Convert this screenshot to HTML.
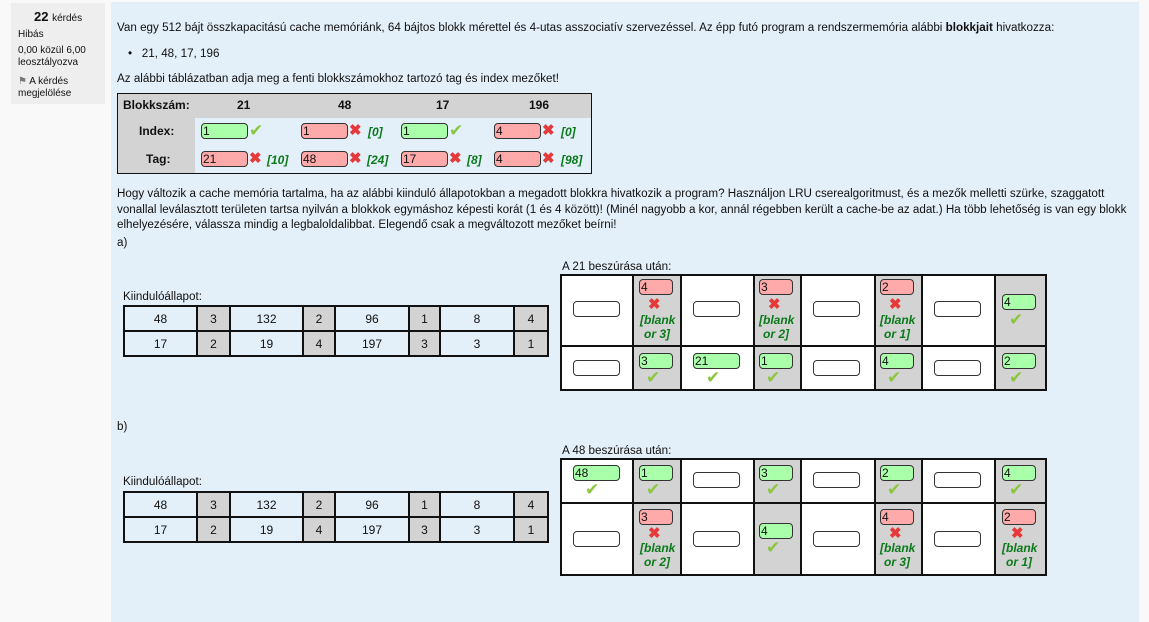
<!DOCTYPE html>
<html><head><meta charset="utf-8"><style>
*{box-sizing:border-box}
body{margin:0;width:1149px;height:608px;background:#f9f9f9;font-family:"Liberation Sans",Arial,sans-serif;font-size:12px;color:#111;position:relative;overflow:hidden}
.a{position:absolute;white-space:nowrap}
.t{font-size:11.65px}
#info{position:absolute;left:11px;top:3px;width:94px;height:101px;background:#eee}
#panel{position:absolute;left:111px;top:2px;width:1028px;height:620px;background:#e3eff9}
.in{position:absolute;height:16px;border:1px solid #333;border-radius:4px;background:#fff;font-size:12px;line-height:14px;padding-left:1px}
.g{background:#aaffaa}.r{background:#ffaaaa}
.ck{position:absolute;color:#8cc63f;font-size:17px;line-height:17px}
.x{position:absolute;color:#e5393a;font-size:15px;line-height:15px;font-weight:bold}
.fb{position:absolute;color:#0a7a1a;font-weight:bold;font-style:italic;font-size:12px}
table{border-collapse:collapse;position:absolute;table-layout:fixed}
table.k td{border:2px solid #111;text-align:center;height:25px;padding:0;font-size:12px}
td.gr{background:#d3d3d3}
table.k td.gr{border-left:1px dotted #111}
table.c td{border:2px solid #111;padding:0;position:relative;background:#fff}
table.c td.gr{background:#d3d3d3;border-left:1px dotted #111}
</style></head><body>
<div id="info"></div>
<div class="a" style="left:34px;top:9px;font-size:13px;font-weight:bold">22 <span style="font-size:10px;font-weight:normal">kérdés</span></div>
<div class="a" style="left:18px;top:29px;font-size:10px">Hibás</div>
<div class="a" style="left:18px;top:45px;font-size:10px;line-height:12px">0,00 közül 6,00<br>leosztályozva</div>
<div class="a" style="left:18px;top:76px;font-size:10px;line-height:12px"><span style="color:#777">⚑</span> A kérdés<br>megjelölése</div>
<div id="panel"></div>
<div class="a t" style="left:117px;top:21px">Van egy 512 bájt összkapacitású cache memóriánk, 64 bájtos blokk mérettel és 4-utas asszociatív szervezéssel. Az épp futó program a rendszermemória alábbi <b>blokkjait</b> hivatkozza:</div>
<div class="a t" style="left:128px;top:47px">•&nbsp;&nbsp; 21, 48, 17, 196</div>
<div class="a t" style="left:117px;top:72px">Az alábbi táblázatban adja meg a fenti blokkszámokhoz tartozó tag és index mezőket!</div>

<div class="a" style="left:117px;top:93px;width:475px;height:81px;border:1px solid #111;background:#e3eff9"></div>
<div class="a" style="left:118px;top:94px;width:473px;height:24px;background:#d3d3d3"></div>
<div class="a" style="left:118px;top:118px;width:77px;height:55px;background:#d3d3d3"></div>
<div class="a" style="left:123px;top:98px;font-weight:bold">Blokkszám:</div>
<div class="a" style="left:237px;top:98px;font-weight:bold">21</div>
<div class="a" style="left:338px;top:98px;font-weight:bold">48</div>
<div class="a" style="left:436px;top:98px;font-weight:bold">17</div>
<div class="a" style="left:529px;top:98px;font-weight:bold">196</div>
<div class="a" style="left:139px;top:124px;font-weight:bold">Index:</div>
<div class="a" style="left:146px;top:152px;font-weight:bold">Tag:</div>
<div class="in g" style="left:201px;top:123px;width:47px">1</div><div class="ck" style="left:249px;top:122px">✔</div>
<div class="in r" style="left:301px;top:123px;width:47px">1</div><div class="x" style="left:349px;top:123px">✖</div><div class="fb" style="left:368px;top:125px">[0]</div>
<div class="in g" style="left:401px;top:123px;width:47px">1</div><div class="ck" style="left:449px;top:122px">✔</div>
<div class="in r" style="left:494px;top:123px;width:47px">4</div><div class="x" style="left:542px;top:123px">✖</div><div class="fb" style="left:561px;top:125px">[0]</div>
<div class="in r" style="left:201px;top:151px;width:47px">21</div><div class="x" style="left:249px;top:151px">✖</div><div class="fb" style="left:267px;top:153px">[10]</div>
<div class="in r" style="left:301px;top:151px;width:47px">48</div><div class="x" style="left:349px;top:151px">✖</div><div class="fb" style="left:367px;top:153px">[24]</div>
<div class="in r" style="left:401px;top:151px;width:47px">17</div><div class="x" style="left:449px;top:151px">✖</div><div class="fb" style="left:467px;top:153px">[8]</div>
<div class="in r" style="left:494px;top:151px;width:47px">4</div><div class="x" style="left:542px;top:151px">✖</div><div class="fb" style="left:561px;top:153px">[98]</div>

<div class="a t" style="left:117px;top:186px;line-height:15.5px">Hogy változik a cache memória tartalma, ha az alábbi kiinduló állapotokban a megadott blokkra hivatkozik a program? Használjon LRU cserealgoritmust, és a mezők melletti szürke, szaggatott<br>vonallal leválasztott területen tartsa nyilván a blokkok egymáshoz képesti korát (1 és 4 között)! (Minél nagyobb a kor, annál régebben került a cache-be az adat.) Ha több lehetőség is van egy blokk<br>elhelyezésére, válassza mindig a legbaloldalibbat. Elegendő csak a megváltozott mezőket beírni!</div>
<div class="a t" style="left:117px;top:236px">a)</div>
<div class="a t" style="left:562px;top:260px">A 21 beszúrása után:</div>
<div class="a t" style="left:123px;top:290px">Kiindulóállapot:</div>
<table class="k" style="left:123px;top:305px;width:424px">
<colgroup><col style="width:73px"><col style="width:33px"><col style="width:73px"><col style="width:32px"><col style="width:74px"><col style="width:31px"><col style="width:74px"><col style="width:34px"></colgroup>
<tr><td>48</td><td class="gr">3</td><td>132</td><td class="gr">2</td><td>96</td><td class="gr">1</td><td>8</td><td class="gr">4</td></tr>
<tr><td>17</td><td class="gr">2</td><td>19</td><td class="gr">4</td><td>197</td><td class="gr">3</td><td>3</td><td class="gr">1</td></tr></table>

<table class="c" style="left:560px;top:274px;width:485px">
<colgroup><col style="width:72px"><col style="width:48px"><col style="width:73px"><col style="width:47px"><col style="width:74px"><col style="width:47px"><col style="width:73px"><col style="width:51px"></colgroup>
<tr style="height:71px"><td></td><td class="gr"></td><td></td><td class="gr"></td><td></td><td class="gr"></td><td></td><td class="gr"></td></tr>
<tr style="height:44px"><td></td><td class="gr"></td><td></td><td class="gr"></td><td></td><td class="gr"></td><td></td><td class="gr"></td></tr></table>
<div class="in" style="left:573px;top:301px;width:47px"></div>
<div class="in r" style="left:639px;top:279px;width:34px">4</div><div class="x" style="left:648px;top:297px">✖</div><div class="fb" style="left:640px;top:313px;text-align:center;line-height:14px;width:34px">[blank<br>or 3]</div>
<div class="in" style="left:693px;top:301px;width:47px"></div>
<div class="in r" style="left:759px;top:279px;width:34px">3</div><div class="x" style="left:768px;top:297px">✖</div><div class="fb" style="left:759px;top:313px;text-align:center;line-height:14px;width:34px">[blank<br>or 2]</div>
<div class="in" style="left:813px;top:301px;width:47px"></div>
<div class="in r" style="left:880px;top:279px;width:34px">2</div><div class="x" style="left:889px;top:297px">✖</div><div class="fb" style="left:880px;top:313px;text-align:center;line-height:14px;width:34px">[blank<br>or 1]</div>
<div class="in" style="left:934px;top:301px;width:47px"></div>
<div class="in g" style="left:1002px;top:294px;width:34px">4</div><div class="ck" style="left:1009px;top:311px">✔</div>
<div class="in" style="left:573px;top:360px;width:47px"></div>
<div class="in g" style="left:639px;top:353px;width:34px">3</div><div class="ck" style="left:646px;top:369px">✔</div>
<div class="in g" style="left:693px;top:353px;width:47px">21</div><div class="ck" style="left:706px;top:369px">✔</div>
<div class="in g" style="left:759px;top:353px;width:34px">1</div><div class="ck" style="left:766px;top:369px">✔</div>
<div class="in" style="left:813px;top:360px;width:47px"></div>
<div class="in g" style="left:880px;top:353px;width:34px">4</div><div class="ck" style="left:887px;top:369px">✔</div>
<div class="in" style="left:934px;top:360px;width:47px"></div>
<div class="in g" style="left:1002px;top:353px;width:34px">2</div><div class="ck" style="left:1009px;top:369px">✔</div>

<div class="a t" style="left:117px;top:420px">b)</div>
<div class="a t" style="left:562px;top:444px">A 48 beszúrása után:</div>
<div class="a t" style="left:123px;top:475px">Kiindulóállapot:</div>
<table class="k" style="left:123px;top:491px;width:424px">
<colgroup><col style="width:73px"><col style="width:33px"><col style="width:73px"><col style="width:32px"><col style="width:74px"><col style="width:31px"><col style="width:74px"><col style="width:34px"></colgroup>
<tr><td>48</td><td class="gr">3</td><td>132</td><td class="gr">2</td><td>96</td><td class="gr">1</td><td>8</td><td class="gr">4</td></tr>
<tr><td>17</td><td class="gr">2</td><td>19</td><td class="gr">4</td><td>197</td><td class="gr">3</td><td>3</td><td class="gr">1</td></tr></table>

<table class="c" style="left:560px;top:458px;width:485px">
<colgroup><col style="width:72px"><col style="width:48px"><col style="width:73px"><col style="width:47px"><col style="width:74px"><col style="width:47px"><col style="width:73px"><col style="width:51px"></colgroup>
<tr style="height:44px"><td></td><td class="gr"></td><td></td><td class="gr"></td><td></td><td class="gr"></td><td></td><td class="gr"></td></tr>
<tr style="height:72px"><td></td><td class="gr"></td><td></td><td class="gr"></td><td></td><td class="gr"></td><td></td><td class="gr"></td></tr></table>
<div class="in g" style="left:573px;top:465px;width:47px">48</div><div class="ck" style="left:585px;top:481px">✔</div>
<div class="in g" style="left:639px;top:465px;width:34px">1</div><div class="ck" style="left:646px;top:481px">✔</div>
<div class="in" style="left:693px;top:472px;width:47px"></div>
<div class="in g" style="left:759px;top:465px;width:34px">3</div><div class="ck" style="left:766px;top:481px">✔</div>
<div class="in" style="left:813px;top:472px;width:47px"></div>
<div class="in g" style="left:880px;top:465px;width:34px">2</div><div class="ck" style="left:887px;top:481px">✔</div>
<div class="in" style="left:934px;top:472px;width:47px"></div>
<div class="in g" style="left:1002px;top:465px;width:34px">4</div><div class="ck" style="left:1009px;top:481px">✔</div>
<div class="in" style="left:573px;top:531px;width:47px"></div>
<div class="in r" style="left:639px;top:509px;width:34px">3</div><div class="x" style="left:648px;top:526px">✖</div><div class="fb" style="left:640px;top:541px;text-align:center;line-height:14px;width:34px">[blank<br>or 2]</div>
<div class="in" style="left:693px;top:531px;width:47px"></div>
<div class="in g" style="left:759px;top:523px;width:34px">4</div><div class="ck" style="left:766px;top:539px">✔</div>
<div class="in" style="left:813px;top:531px;width:47px"></div>
<div class="in r" style="left:880px;top:509px;width:34px">4</div><div class="x" style="left:889px;top:526px">✖</div><div class="fb" style="left:880px;top:541px;text-align:center;line-height:14px;width:34px">[blank<br>or 3]</div>
<div class="in" style="left:934px;top:531px;width:47px"></div>
<div class="in r" style="left:1002px;top:509px;width:34px">2</div><div class="x" style="left:1011px;top:526px">✖</div><div class="fb" style="left:1002px;top:541px;text-align:center;line-height:14px;width:34px">[blank<br>or 1]</div>
</body></html>
